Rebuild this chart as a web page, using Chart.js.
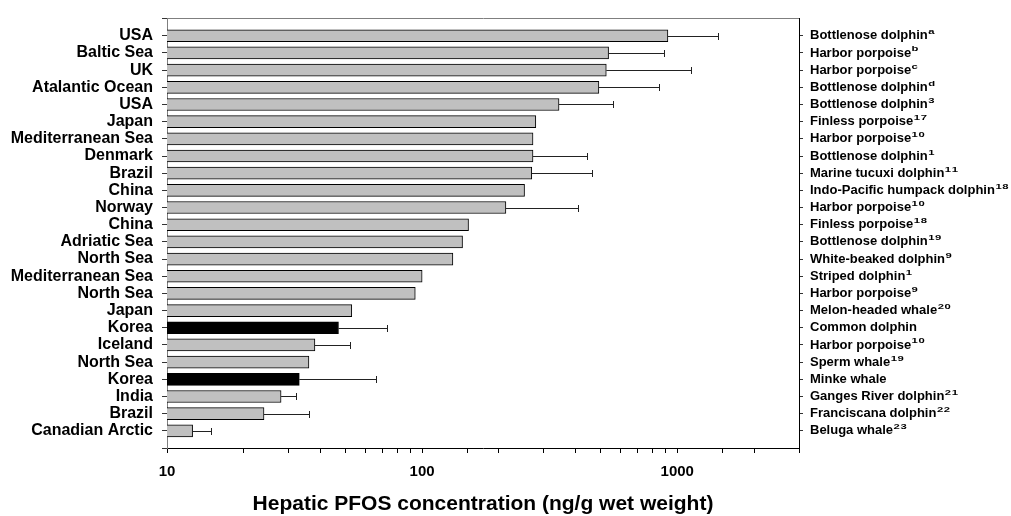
<!DOCTYPE html>
<html>
<head>
<meta charset="utf-8">
<script src="https://cdn.jsdelivr.net/npm/chart.js@4/dist/chart.umd.min.js"></script>
<style>
  html, body { margin: 0; padding: 0; background: #fff; }
  #wrap { width: 1011px; height: 516px; position: relative; }
</style>
</head>
<body>
<div id="wrap"><canvas id="c"></canvas></div>
<script>
const regions = ['USA','Baltic Sea','UK','Atalantic Ocean','USA','Japan','Mediterranean Sea','Denmark','Brazil','China','Norway','China','Adriatic Sea','North Sea','Mediterranean Sea','North Sea','Japan','Korea','Iceland','North Sea','Korea','India','Brazil','Canadian Arctic'];
const species = ['Bottlenose dolphin','Harbor porpoise','Harbor porpoise','Bottlenose dolphin','Bottlenose dolphin','Finless porpoise','Harbor porpoise','Bottlenose dolphin','Marine tucuxi dolphin','Indo-Pacific humpack dolphin','Harbor porpoise','Finless porpoise','Bottlenose dolphin','White-beaked dolphin','Striped dolphin','Harbor porpoise','Melon-headed whale','Common dolphin','Harbor porpoise','Sperm whale','Minke whale','Ganges River dolphin','Franciscana dolphin','Beluga whale'];
const refs = ['a','b','c','d','3','17','10','1','11','18','10','18','19','9','1','9','20','','10','19','','21','22','23'];
const means = [919,538,527,493,344,279,272,272,269,252,213,152,144,132,100,94,53,47,38,36,33,28,24,12.6];
const upper = [1439,891,1135,849,562,null,null,444,464,null,410,null,null,null,null,null,null,73,52,null,66,32,36,14.9];
const xTickLabels = [10, 100, 1000];
const xTitle = 'Hepatic PFOS concentration (ng/g wet weight)';

const FONT = 'Arial, "Liberation Sans", sans-serif';
Chart.defaults.font.family = FONT;
Chart.defaults.color = '#000';

const leftLabels = [''].concat(regions, ['']);
const rightLabels = [''].concat(species, ['']);
const barData = [null].concat(means, [null]);
const barColors = leftLabels.map(l => l === 'Korea' ? '#000000' : '#C0C0C0');

const errorBars = {
  id: 'errorBars',
  afterDatasetsDraw(chart) {
    const xs = chart.scales.x, ys = chart.scales.y, ctx = chart.ctx;
    ctx.save();
    ctx.strokeStyle = '#222';
    ctx.lineWidth = 1;
    upper.forEach((u, i) => {
      if (u == null) return;
      const x1 = xs.getPixelForValue(means[i]);
      const x2 = Math.round(xs.getPixelForValue(u)) + 0.5;
      const y = Math.round(ys.getPixelForValue(i + 1)) + 0.5;
      ctx.beginPath();
      ctx.moveTo(x1, y); ctx.lineTo(x2, y);
      ctx.moveTo(x2, y - 3.5); ctx.lineTo(x2, y + 3.5);
      ctx.stroke();
    });
    ctx.restore();
  }
};

const rightText = {
  id: 'rightText',
  afterDraw(chart) {
    const ys = chart.scales.y2, ctx = chart.ctx;
    const x0 = ys.left + 11;
    ctx.save();
    ctx.fillStyle = '#000';
    species.forEach((s, i) => {
      const y = ys.getPixelForValue(i + 1);
      ctx.font = 'bold 13px ' + FONT;
      ctx.textBaseline = 'middle';
      ctx.textAlign = 'left';
      ctx.fillText(s, x0, y);
      const w = ctx.measureText(s).width;
      if (refs[i]) {
        ctx.font = 'bold 7.5px ' + FONT;
        ctx.textBaseline = 'alphabetic';
        let xx = x0 + w + 0.5;
        for (const ch of refs[i]) {
          ctx.save();
          ctx.translate(xx, y - 1.5);
          ctx.scale(1.5, 1);
          ctx.fillText(ch, 0, 0);
          ctx.restore();
          xx += ctx.measureText(ch).width * 1.5 + 0.6;
        }
      }
    });
    ctx.restore();
  }
};

new Chart(document.getElementById('c'), {
  type: 'bar',
  data: {
    labels: leftLabels,
    datasets: [{
      data: barData,
      backgroundColor: barColors,
      borderColor: '#000',
      borderWidth: 1,
      barThickness: 12,
      yAxisID: 'y',
      xAxisID: 'x'
    }]
  },
  options: {
    indexAxis: 'y',
    responsive: true,
    maintainAspectRatio: false,
    animation: false,
    layout: { padding: { top: 15, left: 0, right: 0, bottom: 0 } },
    plugins: { legend: { display: false }, tooltip: { enabled: false } },
    scales: {
      x: {
        type: 'logarithmic',
        position: 'bottom',
        min: 10,
        max: 3000,
        afterFit(s) { s.height = 68; },
        grid: { drawOnChartArea: false, drawTicks: true, tickLength: 5, color: '#000' },
        border: { display: true, color: '#000', width: 1 },
        ticks: {
          autoSkip: false,
          maxRotation: 0,
          padding: 10,
          font: { size: 15, weight: 'bold' },
          color: '#000',
          callback: v => xTickLabels.includes(v) ? String(v) : ''
        },
        title: {
          display: true,
          text: xTitle,
          font: { size: 21, weight: 'bold', lineHeight: 1.1 },
          color: '#000',
          padding: { top: 0, bottom: 0 }
        }
      },
      x2: {
        type: 'logarithmic',
        position: 'top',
        min: 10,
        max: 3000,
        afterFit(s) { s.height = 0; },
        grid: { drawOnChartArea: false, drawTicks: false },
        border: { display: true, color: '#7f7f7f', width: 1 },
        ticks: { display: false }
      },
      y: {
        type: 'category',
        position: 'left',
        offset: false,
        afterFit(s) { s.width = 167; },
        grid: { offset: false, drawOnChartArea: false, drawTicks: true, tickLength: 5, color: '#333' },
        border: { display: true, color: '#7f7f7f', width: 1 },
        ticks: { autoSkip: false, padding: 9, font: { size: 16, weight: 'bold' }, color: '#000' }
      },
      y2: {
        type: 'category',
        position: 'right',
        labels: rightLabels,
        offset: false,
        afterFit(s) { s.width = 212; },
        grid: {
          offset: false, drawOnChartArea: false, drawTicks: true, tickLength: 4,
          color: c => (c.index === 0 || c.index === rightLabels.length - 1) ? 'rgba(0,0,0,0)' : '#333'
        },
        border: { display: true, color: '#000', width: 1 },
        ticks: { autoSkip: false, callback: () => '' }
      }
    }
  },
  plugins: [errorBars, rightText]
});
</script>
</body>
</html>
